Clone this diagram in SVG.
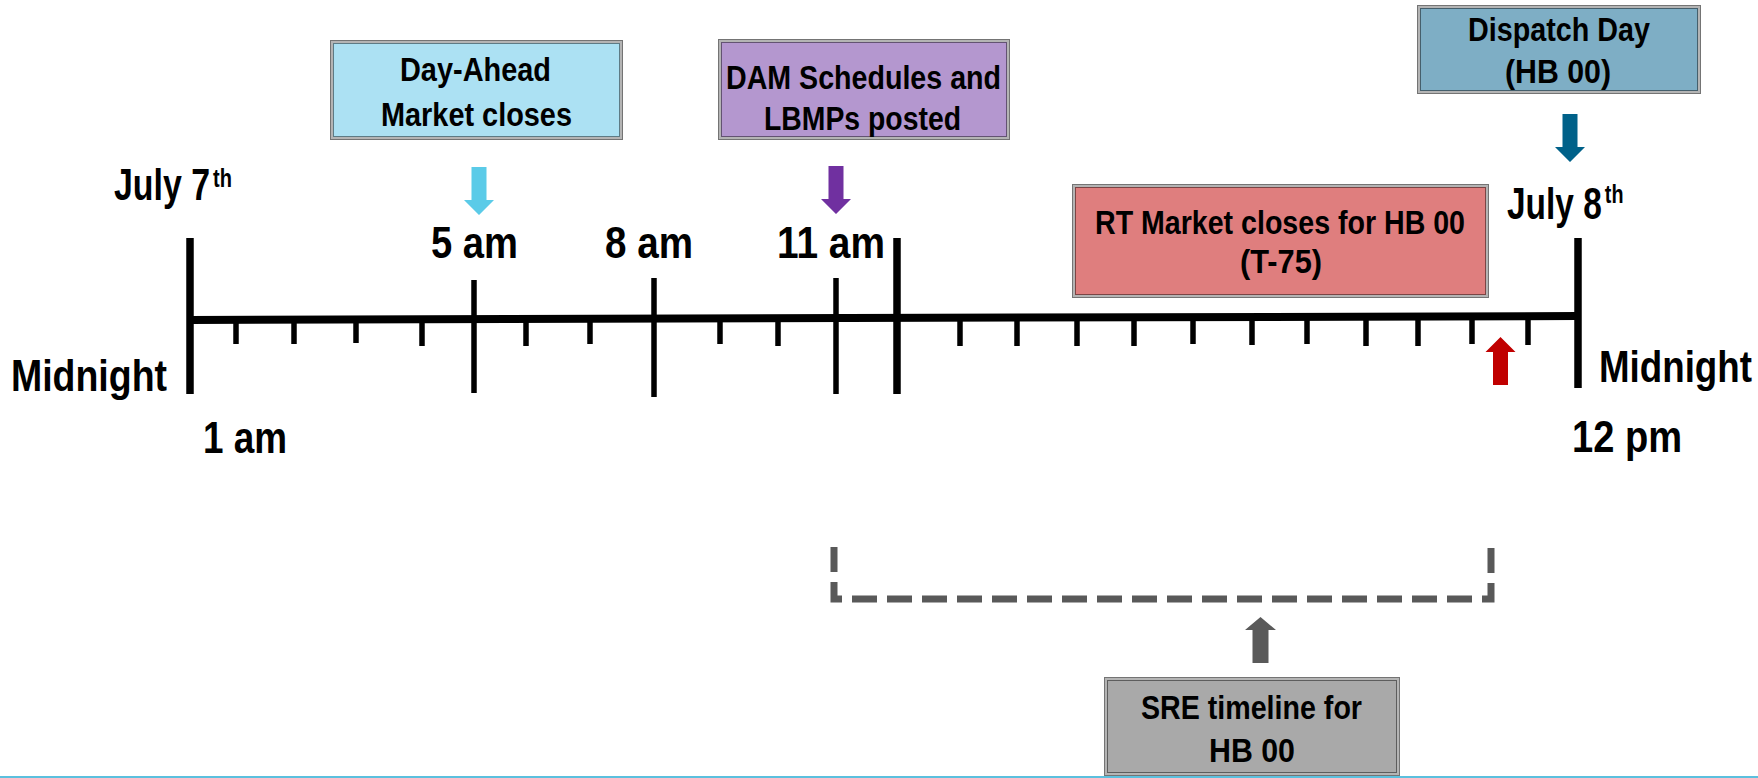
<svg xmlns="http://www.w3.org/2000/svg" xmlns:xlink="http://www.w3.org/1999/xlink" width="1758" height="778" viewBox="0 0 1758 778">
  <defs>
    <style>
      text { font-family: "Liberation Sans", Arial, sans-serif; font-weight: bold; fill: #000; }
      .lbl { font-size: 44px; }
      .sup { font-size: 26px; }
      .bt { font-size: 33px; }
      .axis { stroke: #000; stroke-linecap: butt; fill: none; }
      .major { stroke-width: 7.5; }
      .hour { stroke-width: 5.5; }
      .minor { stroke-width: 5.5; }
      .edge-out { fill: none; stroke: #747474; stroke-width: 1; }
      .edge-mid { fill: none; stroke: #b4b4b4; stroke-width: 2; }
      .edge-in { fill: none; stroke: #000; stroke-opacity: 0.45; stroke-width: 1; }
    </style>
    <!-- block arrow, tip at the origin, pointing down -->
    <path id="arrowDown" d="M-7.5,-48 H7.5 V-15 H15 L0,0 L-15,-15 H-7.5 Z"/>
  </defs>

  <rect width="1758" height="778" fill="#fff"/>

  <!-- connectors: time axis, ticks, pointer arrows, SRE bracket -->
  <g id="connectors">
    <line class="axis" x1="190" y1="320" x2="1578" y2="316" stroke-width="8"/>
    <!-- day boundaries and the 11 am / noon split -->
    <line class="axis major" x1="190" y1="238" x2="190" y2="394"/>
    <line class="axis major" x1="897" y1="238" x2="897" y2="394"/>
    <line class="axis major" x1="1578" y1="238" x2="1578" y2="388"/>
    <!-- labelled hours -->
    <line class="axis hour" x1="474" y1="280" x2="474" y2="393"/>
    <line class="axis hour" x1="654" y1="278" x2="654" y2="397"/>
    <line class="axis hour" x1="836" y1="278" x2="836" y2="394"/>
    <!-- hourly ticks -->
    <g class="axis minor">
      <line x1="236" y1="323" x2="236" y2="344"/>
      <line x1="294" y1="323" x2="294" y2="344"/>
      <line x1="356" y1="323" x2="356" y2="343"/>
      <line x1="422" y1="323" x2="422" y2="346"/>
      <line x1="526" y1="322" x2="526" y2="346"/>
      <line x1="590" y1="322" x2="590" y2="344"/>
      <line x1="720" y1="322" x2="720" y2="344"/>
      <line x1="778" y1="322" x2="778" y2="346"/>
      <line x1="960" y1="320" x2="960" y2="346"/>
      <line x1="1017" y1="320" x2="1017" y2="346"/>
      <line x1="1077" y1="320" x2="1077" y2="346"/>
      <line x1="1134" y1="320" x2="1134" y2="346"/>
      <line x1="1193" y1="319" x2="1193" y2="344"/>
      <line x1="1252" y1="319" x2="1252" y2="345"/>
      <line x1="1307" y1="319" x2="1307" y2="344"/>
      <line x1="1366" y1="319" x2="1366" y2="346"/>
      <line x1="1418" y1="318" x2="1418" y2="346"/>
      <line x1="1472" y1="318" x2="1472" y2="344"/>
      <line x1="1528" y1="318" x2="1528" y2="345"/>
    </g>
    <!-- pointers -->
    <use xlink:href="#arrowDown" x="479" y="215" fill="#5bcbe8"/>
    <use xlink:href="#arrowDown" x="836" y="214" fill="#7030a0"/>
    <use xlink:href="#arrowDown" x="1570" y="162" fill="#006189"/>
    <use xlink:href="#arrowDown" transform="translate(1500.5,337) rotate(180)" fill="#c00000"/>
    <path d="M1252.5,663 V630 H1245 L1260.5,617 L1276,630 H1268.5 V663 Z" fill="#5a5a5a"/>
    <!-- SRE window bracket -->
    <path d="M834,547 V599 H1491 V547" fill="none" stroke="#595959" stroke-width="7" stroke-dasharray="25 10"/>
  </g>

  <!-- axis labels (narrowed horizontally to the condensed face) -->
  <g id="labels">
    <text class="lbl" transform="translate(114,200) scale(0.77,1)">July 7<tspan class="sup" dx="4" dy="-13">th</tspan></text>
    <text class="lbl" transform="translate(1507,219) scale(0.76,1)">July 8<tspan class="sup" dx="4" dy="-16">th</tspan></text>
    <text class="lbl" x="11" y="391" textLength="156" lengthAdjust="spacingAndGlyphs">Midnight</text>
    <text class="lbl" transform="translate(1599,382) scale(0.835,1)">Midnight</text>
    <text class="lbl" x="203" y="453" textLength="84" lengthAdjust="spacingAndGlyphs">1 am</text>
    <text class="lbl" x="1572" y="452" textLength="110" lengthAdjust="spacingAndGlyphs">12 pm</text>
    <text class="lbl" x="431" y="258" textLength="87" lengthAdjust="spacingAndGlyphs">5 am</text>
    <text class="lbl" x="605" y="258" textLength="88" lengthAdjust="spacingAndGlyphs">8 am</text>
    <text class="lbl" x="777" y="258" textLength="108" lengthAdjust="spacingAndGlyphs">11 am</text>
  </g>

  <!-- event boxes -->
  <g id="day-ahead-close">
    <rect x="330" y="40" width="293" height="100" fill="#ace1f3"/>
    <rect class="edge-out" x="330.5" y="40.5" width="292" height="99"/>
    <rect class="edge-mid" x="332" y="42" width="289" height="96"/>
    <rect class="edge-in" x="333.5" y="43.5" width="286" height="93"/>
    <text class="bt" x="400" y="81" textLength="151" lengthAdjust="spacingAndGlyphs">Day-Ahead</text>
    <text class="bt" x="381" y="126" textLength="191" lengthAdjust="spacingAndGlyphs">Market closes</text>
  </g>

  <g id="dam-posted">
    <rect x="718" y="39" width="292" height="101" fill="#b497cf"/>
    <rect class="edge-out" x="718.5" y="39.5" width="291" height="100"/>
    <rect class="edge-mid" x="720" y="41" width="288" height="97"/>
    <rect class="edge-in" x="721.5" y="42.5" width="285" height="94"/>
    <text class="bt" x="726" y="89" textLength="275" lengthAdjust="spacingAndGlyphs">DAM Schedules and</text>
    <text class="bt" x="764" y="130" textLength="197" lengthAdjust="spacingAndGlyphs">LBMPs posted</text>
  </g>

  <g id="dispatch-day">
    <rect x="1417" y="5" width="284" height="89" fill="#7eaec5"/>
    <rect class="edge-out" x="1417.5" y="5.5" width="283" height="88"/>
    <rect class="edge-mid" x="1419" y="7" width="280" height="85"/>
    <rect class="edge-in" x="1420.5" y="8.5" width="277" height="82"/>
    <text class="bt" x="1468" y="41" textLength="182" lengthAdjust="spacingAndGlyphs">Dispatch Day</text>
    <text class="bt" x="1505" y="83" textLength="106" lengthAdjust="spacingAndGlyphs">(HB 00)</text>
  </g>

  <g id="rt-close">
    <rect x="1072" y="184" width="417" height="114" fill="#df7e7e"/>
    <rect class="edge-out" x="1072.5" y="184.5" width="416" height="113"/>
    <rect class="edge-mid" x="1074" y="186" width="413" height="110"/>
    <rect class="edge-in" x="1075.5" y="187.5" width="410" height="107"/>
    <text class="bt" x="1095" y="234" textLength="370" lengthAdjust="spacingAndGlyphs">RT Market closes for HB 00</text>
    <text class="bt" x="1240" y="273" textLength="82" lengthAdjust="spacingAndGlyphs">(T-75)</text>
  </g>

  <g id="sre-timeline">
    <rect x="1104" y="677" width="296" height="99" fill="#a9a9a9"/>
    <rect class="edge-out" x="1104.5" y="677.5" width="295" height="98"/>
    <rect class="edge-mid" x="1106" y="679" width="292" height="95"/>
    <rect class="edge-in" x="1107.5" y="680.5" width="289" height="92"/>
    <text class="bt" x="1141" y="719" textLength="221" lengthAdjust="spacingAndGlyphs">SRE timeline for</text>
    <text class="bt" x="1209" y="762" textLength="86" lengthAdjust="spacingAndGlyphs">HB 00</text>
  </g>

  <!-- footer rule -->
  <line x1="0" y1="777" x2="1758" y2="777" stroke="#5bc0de" stroke-width="2"/>
</svg>
